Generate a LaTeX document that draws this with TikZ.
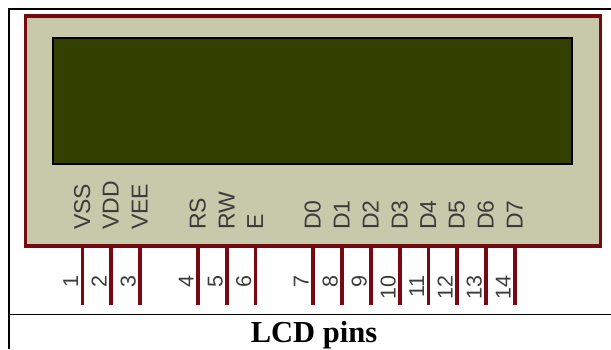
\documentclass[tikz,border=0pt]{standalone}
\usepackage{fontspec}
\setmainfont{Liberation Sans}
\newfontfamily\capfont{Liberation Serif}
\definecolor{lcdred}{HTML}{760A10}
\definecolor{lcdbody}{HTML}{C8C8AA}
\definecolor{lcdscreen}{HTML}{334000}
\definecolor{lcdtext}{HTML}{3C3C3C}
\tikzset{
  x=1pt,y=-1pt,
  body/.style={draw=lcdred,line width=3.6pt,fill=lcdbody,minimum width=575pt,minimum height=230pt,inner sep=0pt},
  screen/.style={draw=black,line width=2.2pt,fill=lcdscreen,minimum width=519pt,minimum height=126pt,inner sep=0pt},
  pinline/.style={draw=lcdred,line width=3.6pt},
  rule/.style={draw=black,line width=1.8pt},
  pinname/.style={rotate=90,anchor=base west,inner sep=0pt,text=lcdtext,font=\fontsize{23}{23}\selectfont},
  pinnum/.style={rotate=90,anchor=base east,inner sep=0pt,text=lcdtext,font=\fontsize{21.5}{21.5}\selectfont},
  caption/.style={anchor=base,inner sep=0pt,font=\capfont\bfseries\fontsize{30.5}{30.5}\selectfont}
}
\begin{document}
\begin{tikzpicture}
\useasboundingbox (0,0) rectangle (611,349);
\fill[white] (0,0) rectangle (611,349);
\coordinate (tl) at (9,9);
\coordinate (tr) at (611,9);
\coordinate (bl) at (9,349);
\coordinate (ml) at (9,314.5);
\coordinate (mr) at (611,314.5);
\draw[rule] (bl) -- (tl) -- (tr);
\draw[rule] (ml) -- (mr);
\node[body] (lcd) at (313,131) {};
\node[screen] (lcdscreen) at (312.7,101) {};
\foreach \px/\num/\lab in {82.5/1/VSS,111/2/VDD,140/3/VEE,198/4/RS,227/5/RW,255.5/6/E,313/7/D0,342/8/D1,371/9/D2,400/10/D3,428.5/11/D4,457/12/D5,486/13/D6,515/14/D7}{
  \coordinate (pin\num) at (\px,305);
  \draw[pinline] (lcd.south -| pin\num) -- (pin\num);
  \node[pinname] (name\num) at (\px+7.5,230) {\lab};
  \node[pinnum] (num\num) at (\px-4.5,275) {\num};
}
\node[caption] (cap) at (314,342.3) {LCD pins};
\end{tikzpicture}
\end{document}
